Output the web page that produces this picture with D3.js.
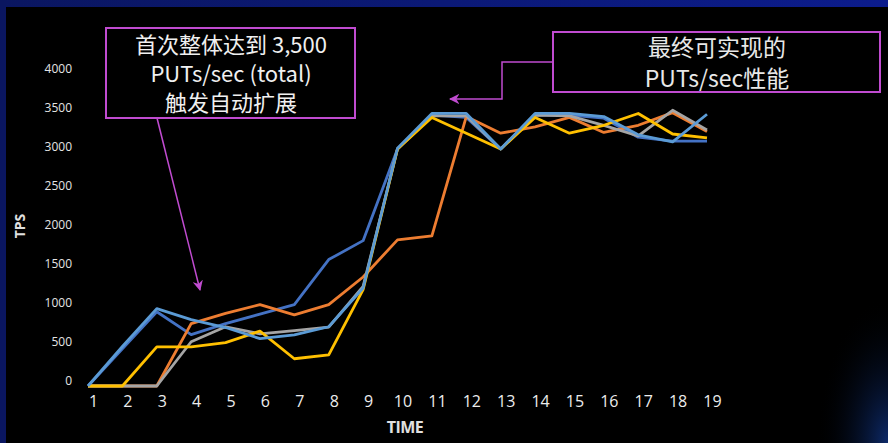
<!DOCTYPE html>
<html><head><meta charset="utf-8">
<script src="https://cdn.jsdelivr.net/npm/d3@7"></script>
<style>
html,body{margin:0;padding:0;background:#000;}
svg{display:block;}
</style></head>
<body>
<svg id="c" width="888" height="443"></svg>
<script>
// ---- data ----
const times = [1,2,3,4,5,6,7,8,9,10,11,12,13,14,15,16,17,18,19];
const yTicks = [0,500,1000,1500,2000,2500,3000,3500,4000];
const seriesNames = ["S1","S2","S3","S4","S5"];
const s1 = [0,470,940,650,790,910,1030,1600,1840,3000,3430,3400,3000,3430,3430,3390,3150,3100,3100];
const s2 = [0,0,0,790,920,1030,900,1030,1380,1850,1900,3410,3200,3280,3400,3210,3300,3460,3220];
const s3 = [0,0,0,560,750,660,700,745,1260,3000,3420,3420,3000,3430,3420,3300,3165,3490,3240];
const s4 = [0,0,495,495,550,695,345,395,1220,3000,3400,3200,3000,3400,3200,3300,3450,3190,3140];
const s5 = [0,500,980,840,740,600,646,750,1240,3010,3450,3450,3000,3450,3450,3410,3180,3090,3440];
const colors = ["#4472C4","#ED7D31","#A5A5A5","#FFC000","#5B9BD5"];
const note1 = ["首次整体达到 3,500","PUTs/sec (total)","触发自动扩展"];
const note2 = ["最终可实现的","PUTs/sec性能"];
const xTitle = "TIME", yTitle = "TPS";

const svg = d3.select("#c");
const W = 888, H = 443;

// background
const defs = svg.append("defs");
const gTop = defs.append("linearGradient").attr("id","gTop");
gTop.append("stop").attr("offset","0%").attr("stop-color","#0a1660");
gTop.append("stop").attr("offset","100%").attr("stop-color","#0c1c8c");
const gR = defs.append("radialGradient").attr("id","gR").attr("cx","100%").attr("cy","100%").attr("r","60%");
gR.append("stop").attr("offset","0%").attr("stop-color","#0d2a6a");
gR.append("stop").attr("offset","100%").attr("stop-color","#000").attr("stop-opacity",0);
svg.append("rect").attr("width",W).attr("height",H).attr("fill","#000");
svg.append("rect").attr("x",W-120).attr("y",200).attr("width",120).attr("height",243).attr("fill","url(#gR)");
svg.append("rect").attr("width",W).attr("height",7).attr("fill","url(#gTop)");
svg.append("rect").attr("width",6).attr("height",H).attr("fill","#0a1660");

// scales
const x = d3.scaleLinear().domain([1,19]).range([88,707]);
const y = d3.scaleLinear().domain([0,4000]).range([386,70]);
const yLab = d3.scaleLinear().domain([0,4000]).range([381,69]);

// y axis labels
const ya = svg.append("g").attr("transform","translate(72,0)")
  .call(d3.axisLeft(yLab).tickValues(yTicks).tickFormat(d3.format("d")).tickSize(0).tickPadding(0));
ya.select(".domain").remove();
ya.selectAll("text").attr("fill","#e4e4e4").attr("font-family","Open Sans").attr("font-size",12);

// x axis labels
const xa = svg.append("g").attr("transform","translate(5,396)")
  .call(d3.axisBottom(x).tickValues(times).tickFormat(d3.format("d")).tickSize(0).tickPadding(0));
xa.select(".domain").remove();
xa.selectAll("text").attr("fill","#ececec").attr("font-family","Open Sans").attr("font-size",16);

// axis titles
svg.append("text").attr("x",405).attr("y",433).attr("text-anchor","middle")
  .attr("fill","#e0e0e0").attr("font-family","Open Sans").attr("font-weight","bold").attr("font-size",16)
  .attr("letter-spacing","-0.5").text(xTitle);
svg.append("text").attr("transform","translate(25,226) rotate(-90)").attr("text-anchor","middle")
  .attr("fill","#e0e0e0").attr("font-family","Open Sans").attr("font-weight","bold").attr("font-size",14)
  .text(yTitle);

// lines
const all = [s1,s2,s3,s4,s5];
const line = d3.line().x((d,i)=>x(times[i])).y(d=>y(d));
svg.append("g").selectAll("path").data(all).join("path")
  .attr("d",line).attr("fill","none").attr("stroke",(d,i)=>colors[i])
  .attr("stroke-width",2.8).attr("stroke-linejoin","round");

// annotations
const mag = "#c04bd0";
defs.append("marker").attr("id","ah").attr("viewBox","0 0 10 10").attr("refX",9).attr("refY",5)
  .attr("markerWidth",7).attr("markerHeight",7).attr("orient","auto-start-reverse")
  .append("path").attr("d","M0,0 L10,5 L0,10 L3,5 Z").attr("fill",mag);

svg.append("rect").attr("x",106).attr("y",28).attr("width",249).attr("height",90)
  .attr("fill","none").attr("stroke",mag).attr("stroke-width",2);
svg.append("g").selectAll("text").data(note1).join("text")
  .attr("x",231).attr("y",(d,i)=>45+i*29).attr("dy","0.36em").attr("text-anchor","middle")
  .attr("fill","#f0f0f0").attr("font-family","Noto Sans CJK SC").attr("font-size",22).text(d=>d);
svg.append("line").attr("x1",157).attr("y1",118).attr("x2",200).attr("y2",290)
  .attr("stroke",mag).attr("stroke-width",1.5).attr("marker-end","url(#ah)");

svg.append("rect").attr("x",553).attr("y",32).attr("width",327).attr("height",60)
  .attr("fill","none").attr("stroke",mag).attr("stroke-width",2);
svg.append("g").selectAll("text").data(note2).join("text")
  .attr("x",717).attr("y",(d,i)=>48+i*31).attr("dy","0.36em").attr("text-anchor","middle")
  .attr("fill","#e8e8e8").attr("font-family","Noto Sans CJK SC").attr("font-size",23).text(d=>d);
svg.append("path").attr("d","M553,62 L502,62 L502,99 L450,99")
  .attr("fill","none").attr("stroke",mag).attr("stroke-width",1.5).attr("marker-end","url(#ah)");
</script>
</body></html>
